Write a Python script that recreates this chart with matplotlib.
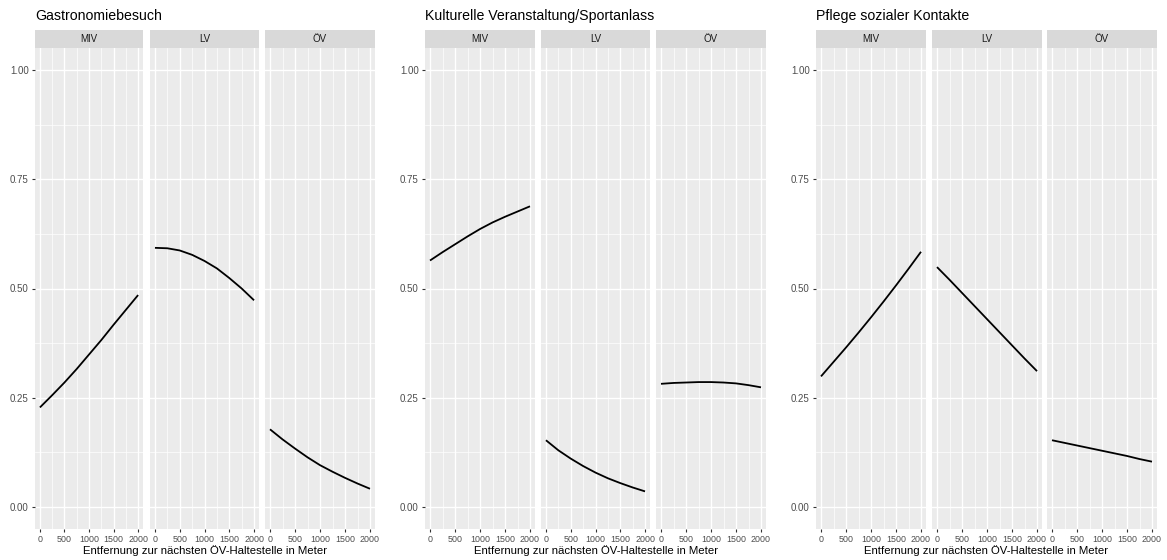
import matplotlib.pyplot as plt
from matplotlib.ticker import MultipleLocator

plt.rcParams['font.family'] = ['Liberation Sans', 'DejaVu Sans']

distance = [0, 250, 500, 750, 1000, 1250, 1500, 1750, 2000]

panel_titles = ['Gastronomiebesuch', 'Kulturelle Veranstaltung/Sportanlass', 'Pflege sozialer Kontakte']
modes = ['MIV', 'LV', 'ÖV']

# Vorhergesagte Wahrscheinlichkeiten je Zweck und Verkehrsmittel
gastro_miv = [0.228, 0.256, 0.285, 0.316, 0.349, 0.382, 0.417, 0.451, 0.485]
gastro_lv = [0.593, 0.592, 0.587, 0.577, 0.563, 0.546, 0.524, 0.500, 0.473]
gastro_ov = [0.178, 0.155, 0.134, 0.114, 0.096, 0.081, 0.067, 0.054, 0.042]

kultur_miv = [0.564, 0.583, 0.601, 0.619, 0.636, 0.651, 0.664, 0.676, 0.688]
kultur_lv = [0.153, 0.130, 0.111, 0.094, 0.079, 0.066, 0.055, 0.045, 0.036]
kultur_ov = [0.282, 0.284, 0.285, 0.286, 0.286, 0.285, 0.283, 0.279, 0.274]

sozial_miv = [0.299, 0.332, 0.365, 0.399, 0.434, 0.470, 0.507, 0.545, 0.584]
sozial_lv = [0.549, 0.520, 0.490, 0.460, 0.430, 0.400, 0.370, 0.340, 0.311]
sozial_ov = [0.153, 0.147, 0.141, 0.135, 0.129, 0.123, 0.117, 0.110, 0.104]

series = [
    [gastro_miv, gastro_lv, gastro_ov],
    [kultur_miv, kultur_lv, kultur_ov],
    [sozial_miv, sozial_lv, sozial_ov],
]

x_ticks = [0, 500, 1000, 1500, 2000]
y_ticks = [0.00, 0.25, 0.50, 0.75, 1.00]

W, H = 1167, 560
fig = plt.figure(figsize=(W / 100, H / 100), dpi=100)
fig.patch.set_facecolor('white')

# left/right pixel edges of every facet
facet_px = [
    [(35, 143), (150, 259), (265, 375)],
    [(425, 535), (541, 650), (656, 766)],
    [(816, 926), (932, 1042), (1047, 1157)],
]
strip_top, strip_bot, plot_bot = 30, 48, 529


def px_axes(x0, x1, y0, y1):
    return fig.add_axes([x0 / W, 1 - y1 / H, (x1 - x0) / W, (y1 - y0) / H])


for p in range(3):
    for f in range(3):
        x0, x1 = facet_px[p][f]
        ax = px_axes(x0, x1, strip_bot, plot_bot)
        ax.set_facecolor('#EBEBEB')
        ax.plot(distance, series[p][f], color='black', linewidth=1.3, solid_capstyle='butt')
        ax.set_xlim(-100, 2100)
        ax.set_ylim(-0.05, 1.05)
        ax.set_xticks(x_ticks)
        ax.set_yticks(y_ticks)
        ax.xaxis.set_minor_locator(MultipleLocator(250))
        ax.yaxis.set_minor_locator(MultipleLocator(0.125))
        ax.grid(which='major', color='white', linewidth=1.0)
        ax.grid(which='minor', color='white', linewidth=0.5)
        ax.set_axisbelow(True)
        for s in ax.spines.values():
            s.set_visible(False)
        ax.tick_params(which='minor', length=0)
        ax.tick_params(axis='x', which='major', length=2.5, width=0.8, color='#333333',
                       labelsize=6.4, labelcolor='#4D4D4D', pad=1.5)
        ax.tick_params(axis='y', which='major', length=2.5, width=0.8, color='#333333',
                       labelsize=7, labelcolor='#4D4D4D', pad=2)
        ax.set_xticklabels([str(t) for t in x_ticks])
        if f == 0:
            ax.set_yticklabels(['%.2f' % t for t in y_ticks])
        else:
            ax.tick_params(axis='y', left=False, labelleft=False)

        # facet strip
        sa = px_axes(x0, x1, strip_top, strip_bot)
        sa.set_facecolor('#D9D9D9')
        sa.set_xticks([])
        sa.set_yticks([])
        for s in sa.spines.values():
            s.set_visible(False)
        sa.text(0.5, 0.5, modes[f], ha='center', va='center', fontsize=7,
                color='#1A1A1A', transform=sa.transAxes)

    left = facet_px[p][0][0]
    right = facet_px[p][2][1]
    fig.text(left / W, 1 - 16 / H, panel_titles[p], ha='left', va='center',
             fontsize=10.2, color='black')
    fig.text((left + right) / 2 / W, 1 - 551 / H,
             'Entfernung zur nächsten ÖV-Haltestelle in Meter',
             ha='center', va='center', fontsize=8.2, color='black')

fig.savefig('out.png', dpi=100, facecolor='white')
